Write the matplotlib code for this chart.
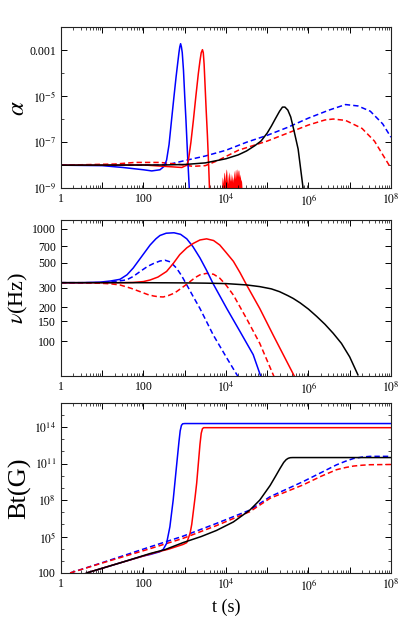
import numpy as np
import matplotlib
matplotlib.use("Agg")
import matplotlib.pyplot as plt
from matplotlib.ticker import FixedLocator, FuncFormatter, LogLocator, NullFormatter, NullLocator

plt.rcParams["font.family"] = ["Liberation Serif", "DejaVu Serif"]
plt.rcParams["mathtext.fontset"] = "stix"

# ---- panel 1: alpha (values are log10 t, log10 alpha) ----
a_black_t = [0, 2.5, 3.0, 3.5, 4.0, 4.3, 4.5, 4.7, 4.85, 5.0, 5.1, 5.2, 5.3, 5.37, 5.43,
             5.5, 5.57, 5.65, 5.75, 5.87, 5.92]
a_black_v = [-8.0, -7.99, -7.97, -7.9, -7.72, -7.55, -7.38, -7.15, -6.95, -6.6, -6.3, -5.97,
             -5.65, -5.47, -5.47, -5.6, -5.9, -6.5, -7.3, -9.0, -9.6]

a_blue_t = [0, 1.0, 1.5, 2.0, 2.2, 2.4, 2.5, 2.56, 2.62, 2.68, 2.74, 2.79, 2.83, 2.86, 2.88,
            2.90, 2.92, 2.94, 2.97, 3.0, 3.03, 3.07, 3.11, 3.13]
a_blue_v = [-8.0, -8.02, -8.1, -8.2, -8.25, -8.2, -8.05, -7.78, -7.1, -6.04, -5.0, -4.16,
            -3.55, -3.1, -2.85, -2.71, -2.85, -3.1, -3.87, -5.0, -6.04, -7.6, -9.0, -9.6]

a_red_t = [0, 2.0, 2.5, 2.93, 3.05, 3.09, 3.15, 3.21, 3.27, 3.33, 3.37, 3.40, 3.43,
           3.45, 3.47, 3.49, 3.52, 3.55, 3.58, 3.60, 3.62]
a_red_v = [-8.0, -7.99, -8.05, -8.1, -8.0, -7.78, -7.0, -6.04, -5.0, -4.01, -3.45, -3.1, -2.97,
           -3.1, -3.6, -4.4, -5.6, -6.7, -8.0, -9.0, -9.6]

a_blue_d_t = [0, 2.3, 2.6, 3.0, 3.5, 4.0, 4.5, 5.0, 5.5, 6.0, 6.5, 6.9, 7.2, 7.5, 7.8, 8.0]
a_blue_d_v = [-8.0, -8.0, -7.97, -7.8, -7.6, -7.35, -7.0, -6.7, -6.35, -5.95, -5.6, -5.36,
              -5.42, -5.65, -6.2, -6.78]

a_red_d_t = [0, 1.3, 1.8, 2.4, 2.8, 3.2, 3.5, 3.8, 4.3, 5.0, 5.5, 6.0, 6.4, 6.6, 6.9,
             7.3, 7.6, 8.0]
a_red_d_v = [-8.0, -7.95, -7.88, -7.88, -7.95, -8.05, -8.02, -7.8, -7.35, -6.95, -6.6,
             -6.25, -6.03, -5.99, -6.05, -6.4, -6.95, -8.13]

noise_t = [3.89, 3.90, 3.91, 3.92, 3.93, 3.94, 3.95, 3.96, 3.97, 3.98, 3.99, 4.00, 4.01, 4.02,
           4.03, 4.04, 4.05, 4.06, 4.07, 4.08, 4.09, 4.10, 4.11, 4.12, 4.13, 4.14, 4.15, 4.16,
           4.17, 4.18, 4.19, 4.20, 4.21, 4.22, 4.23, 4.24, 4.25, 4.26, 4.27, 4.28, 4.29, 4.30,
           4.31, 4.32, 4.33, 4.34, 4.35, 4.36, 4.37, 4.38, 4.39, 4.40, 4.41]
noise_v = [-9.5, -8.75, -8.5, -8.6, -8.8, -8.55, -8.35, -8.3, -8.45, -8.7, -8.4, -8.22, -8.16,
           -8.3, -8.6, -8.8, -8.55, -8.4, -8.28, -8.45, -8.7, -8.55, -8.35, -8.5, -8.7, -8.4,
           -8.55, -8.75, -8.5, -8.65, -8.4, -8.28, -8.2, -8.4, -8.6, -8.35, -8.2, -8.16, -8.3,
           -8.5, -8.28, -8.2, -8.22, -8.4, -8.55, -8.38, -8.5, -8.7, -8.6, -8.75, -9.0, -9.5, -9.5]

# ---- panel 2: nu (log10 t, log10 nu) ----
n_black_t = [0, 2.0, 3.0, 3.5, 4.0, 4.5, 4.82, 5.1, 5.3, 5.5, 5.63, 5.8, 6.0, 6.2, 6.4,
             6.6, 6.8, 7.0, 7.2]
n_black_v = [2.52, 2.52, 2.518, 2.516, 2.512, 2.50, 2.485, 2.465, 2.44, 2.405, 2.38, 2.34,
             2.285, 2.22, 2.15, 2.07, 1.98, 1.86, 1.70]

n_blue_t = [0, 0.5, 0.945, 1.2, 1.43, 1.6, 1.75, 1.95, 2.16, 2.3, 2.4, 2.55, 2.74, 2.9,
            3.05, 3.2, 3.37, 3.53, 3.69, 4.02, 4.34, 4.66, 4.85]
n_blue_v = [2.52, 2.52, 2.525, 2.535, 2.55, 2.59, 2.65, 2.75, 2.855, 2.91, 2.94, 2.96,
            2.964, 2.95, 2.91, 2.84, 2.74, 2.63, 2.51, 2.29, 2.086, 1.88, 1.68]

n_blue_d_t = [0, 1.0, 1.3, 1.59, 1.75, 1.92, 2.1, 2.24, 2.4, 2.52, 2.65, 2.80, 2.92, 3.05,
              3.2, 3.37, 3.69, 4.02, 4.3]
n_blue_d_v = [2.52, 2.52, 2.53, 2.545, 2.575, 2.62, 2.665, 2.69, 2.713, 2.72, 2.705, 2.65,
              2.585, 2.5, 2.40, 2.29, 2.056, 1.85, 1.68]

n_red_t = [0, 1.5, 1.75, 2.0, 2.16, 2.35, 2.56, 2.72, 2.88, 3.05, 3.21, 3.37, 3.53, 3.7,
           3.85, 4.0, 4.18, 4.34, 4.50, 4.82, 5.15, 5.67]
n_red_v = [2.52, 2.52, 2.522, 2.53, 2.544, 2.57, 2.62, 2.69, 2.77, 2.83, 2.87, 2.90, 2.91,
           2.895, 2.855, 2.79, 2.71, 2.61, 2.50, 2.29, 2.05, 1.68]

n_red_d_t = [0, 0.945, 1.2, 1.43, 1.7, 1.92, 2.1, 2.24, 2.36, 2.48, 2.6, 2.70, 2.80, 2.97,
             3.13, 3.25, 3.37, 3.53, 3.7, 3.85, 4.0, 4.18, 4.50, 4.82, 5.17]
n_red_d_v = [2.52, 2.515, 2.51, 2.50, 2.47, 2.44, 2.415, 2.402, 2.395, 2.393, 2.405, 2.42,
             2.44, 2.485, 2.53, 2.565, 2.59, 2.603, 2.595, 2.56, 2.50, 2.41, 2.20, 1.98, 1.68]

# ---- panel 3: Bt (log10 t, log10 B) ----
b_black_t = [0.62, 1.5, 2.16, 2.52, 2.96, 3.4, 3.77, 4.18, 4.58, 4.82, 5.07, 5.2, 5.31,
             5.4, 5.46, 5.51, 5.56, 5.62, 8.0]
b_black_v = [2.0, 2.9, 3.6, 3.92, 4.5, 5.0, 5.5, 6.2, 7.18, 8.0, 9.2, 9.95, 10.6, 11.1,
             11.33, 11.44, 11.49, 11.5, 11.5]

b_blue_t = [0.62, 1.5, 2.0, 2.16, 2.4, 2.48, 2.56, 2.64, 2.72, 2.80, 2.86, 2.89, 2.92,
            2.95, 3.0, 8.0]
b_blue_v = [2.0, 2.9, 3.4, 3.52, 3.75, 3.95, 4.43, 5.8, 8.0, 10.76, 12.8, 13.7, 14.15,
            14.28, 14.3, 14.3]

b_red_t = [0.62, 1.5, 2.3, 2.6, 2.96, 3.05, 3.13, 3.17, 3.25, 3.29, 3.33, 3.37, 3.40,
           3.43, 3.46, 8.0]
b_red_v = [2.0, 2.9, 3.7, 3.95, 4.35, 4.5, 5.26, 6.0, 8.2, 9.4, 11.0, 12.6, 13.5,
           13.88, 13.96, 13.96]

b_blue_d_t = [0.22, 1.0, 2.16, 2.96, 3.77, 4.58, 5.07, 5.87, 6.3, 6.68, 6.9, 7.09, 7.3,
              7.49, 8.0]
b_blue_d_v = [2.0, 2.85, 4.15, 5.03, 6.08, 7.18, 8.28, 9.52, 10.25, 10.9, 11.2, 11.42,
              11.54, 11.6, 11.6]

b_red_d_t = [0.22, 1.0, 2.16, 2.96, 3.77, 4.58, 5.07, 5.87, 6.3, 6.68, 6.9, 7.09, 7.3,
             7.49, 8.0]
b_red_d_v = [2.0, 2.82, 4.0, 4.85, 5.9, 7.05, 8.15, 9.25, 9.95, 10.5, 10.68, 10.8, 10.87,
             10.91, 10.93]


def p10(v):
    return 10.0 ** np.asarray(v)


def xlabel_fmt(v, pos):
    k = int(round(np.log10(v)))
    if k % 2:
        return ""
    if k == 0:
        return "1"
    if k == 2:
        return "100"
    return "$10^{%d}$" % k


def style_axis(ax):
    ax.set_xscale("log")
    ax.set_yscale("log")
    ax.set_xlim(1, 1e8)
    ax.tick_params(which="both", direction="in", top=True, right=True, labelsize=8.5)
    ax.tick_params(which="major", length=4, width=0.7)
    ax.tick_params(which="minor", length=2, width=0.5)
    ax.xaxis.set_major_locator(FixedLocator([10.0 ** k for k in range(9)]))
    ax.xaxis.set_major_formatter(FuncFormatter(xlabel_fmt))
    ax.xaxis.set_minor_locator(LogLocator(base=10, subs=np.arange(2, 10), numticks=20))
    ax.xaxis.set_minor_formatter(NullFormatter())
    for s in ax.spines.values():
        s.set_linewidth(0.8)
        s.set_color("#222222")


dash = (3.5, 2)
lw = 1.1

fig = plt.figure(figsize=(4.15, 6.23), dpi=100)
ax1 = fig.add_axes([0.147, 0.698, 0.795, 0.258])
ax2 = fig.add_axes([0.147, 0.3965, 0.795, 0.250])
ax3 = fig.add_axes([0.147, 0.0803, 0.795, 0.273])

# alpha
ax1.fill_between(p10(noise_t), 1e-10, p10(noise_v), color="red", lw=0)
ax1.plot(p10(a_blue_d_t), p10(a_blue_d_v), color="blue", lw=lw, dashes=dash)
ax1.plot(p10(a_red_d_t), p10(a_red_d_v), color="red", lw=lw, dashes=dash)
ax1.plot(p10(a_blue_t), p10(a_blue_v), color="blue", lw=lw)
ax1.plot(p10(a_red_t), p10(a_red_v), color="red", lw=lw)
ax1.plot(p10(a_black_t), p10(a_black_v), color="black", lw=lw)
style_axis(ax1)
ax1.set_ylim(1e-9, 1e-2)
ax1.yaxis.set_major_locator(FixedLocator([1e-9, 1e-7, 1e-5, 1e-3]))
alpha_labels = {-9: "$10^{-9}$", -7: "$10^{-7}$", -5: "$10^{-5}$", -3: "0.001"}
ax1.yaxis.set_major_formatter(FuncFormatter(
    lambda v, p: alpha_labels.get(int(round(np.log10(v))), "")))
ax1.yaxis.set_minor_locator(FixedLocator([1e-8, 1e-6, 1e-4, 1e-2]))
ax1.yaxis.set_minor_formatter(NullFormatter())
ax1.set_ylabel(r"$\alpha$", fontsize=18)
ax1.yaxis.set_label_coords(-0.097, 0.5)

# nu
ax2.plot(p10(n_blue_d_t), p10(n_blue_d_v), color="blue", lw=lw, dashes=dash)
ax2.plot(p10(n_red_d_t), p10(n_red_d_v), color="red", lw=lw, dashes=dash)
ax2.plot(p10(n_blue_t), p10(n_blue_v), color="blue", lw=lw)
ax2.plot(p10(n_red_t), p10(n_red_v), color="red", lw=lw)
ax2.plot(p10(n_black_t), p10(n_black_v), color="black", lw=lw)
style_axis(ax2)
ax2.set_ylim(49, 1190)
nu_ticks = [100, 150, 200, 300, 500, 700, 1000]
ax2.yaxis.set_major_locator(FixedLocator(nu_ticks))
ax2.yaxis.set_major_formatter(FuncFormatter(lambda v, p: "%d" % round(v)))
ax2.yaxis.set_minor_locator(NullLocator())
ax2.set_ylabel(r"$\nu$(Hz)", fontsize=16)
ax2.yaxis.set_label_coords(-0.094, 0.5)

# Bt
ax3.plot(p10(b_blue_d_t), p10(b_blue_d_v), color="blue", lw=lw, dashes=dash)
ax3.plot(p10(b_red_d_t), p10(b_red_d_v), color="red", lw=lw, dashes=dash)
ax3.plot(p10(b_blue_t), p10(b_blue_v), color="blue", lw=lw)
ax3.plot(p10(b_red_t), p10(b_red_v), color="red", lw=lw)
ax3.plot(p10(b_black_t), p10(b_black_v), color="black", lw=lw)
style_axis(ax3)
ax3.set_ylim(1e2, 1e16)
ax3.yaxis.set_major_locator(FixedLocator([1e2, 1e5, 1e8, 1e11, 1e14]))
ax3.yaxis.set_major_formatter(FuncFormatter(
    lambda v, p: "100" if round(np.log10(v)) == 2 else "$10^{%d}$" % round(np.log10(v))))
ax3.yaxis.set_minor_locator(FixedLocator([10.0 ** k for k in range(3, 16) if k % 3 != 2]))
ax3.yaxis.set_minor_formatter(NullFormatter())
ax3.set_ylabel("Bt(G)", fontsize=19)
ax3.yaxis.set_label_coords(-0.09, 0.5)
ax3.set_xlabel("t (s)", fontsize=13, labelpad=4)

fig.savefig("out.png", dpi=100)
